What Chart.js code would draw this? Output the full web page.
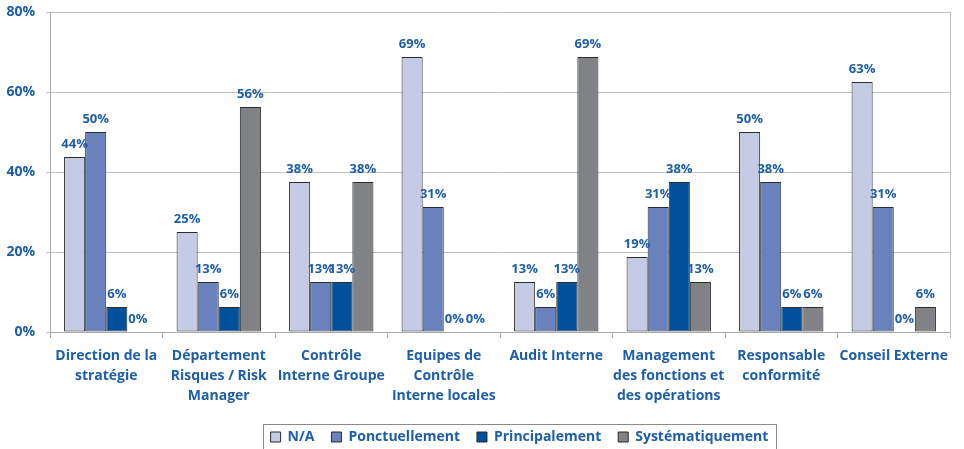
<!DOCTYPE html>
<html><head><meta charset="utf-8">
<script src="https://cdn.jsdelivr.net/npm/chart.js@4.4.0/dist/chart.umd.min.js"></script>
<style>html,body{margin:0;padding:0;background:#fff}#wrap{width:964px;height:449px}</style>
</head><body><div id="wrap"><canvas id="c" width="964" height="449"></canvas></div>
<script>
const categories = [["Direction de la","stratégie"],["Département","Risques / Risk","Manager"],["Contrôle","Interne Groupe"],["Equipes de","Contrôle","Interne locales"],["Audit Interne"],["Management","des fonctions et","des opérations"],["Responsable","conformité"],["Conseil Externe"]];
const seriesNames = ["N/A","Ponctuellement","Principalement","Systématiquement"];
const naValues = [43.75,25,37.5,68.75,12.5,18.75,50,62.5];
const ponctuellementValues = [50,12.5,12.5,31.25,6.25,31.25,37.5,31.25];
const principalementValues = [6.25,6.25,12.5,0,12.5,37.5,6.25,0];
const systematiquementValues = [0,56.25,37.5,0,68.75,12.5,6.25,6.25];
const yTickValues = [0,20,40,60,80];

const TEXT = '#1d5ea8';
const FONT = '"Open Sans", Lato, sans-serif';
const colors = ['#c5cbe4','#6982bd','#00509b','#808285'];
const seriesValues = [naValues, ponctuellementValues, principalementValues, systematiquementValues];

const valueLabels = {
  id:'valueLabels',
  afterDatasetsDraw(chart){
    const ctx = chart.ctx; ctx.save();
    ctx.font = 'bold 13px ' + FONT; ctx.fillStyle = TEXT;
    ctx.textAlign = 'center'; ctx.textBaseline = 'bottom';
    chart.data.datasets.forEach((ds,i)=>{
      chart.getDatasetMeta(i).data.forEach((bar,j)=>{
        ctx.fillText(Math.round(ds.data[j]) + '%', bar.x, bar.y - 6);
      });
    });
    ctx.restore();
  }
};
const frame = {
  id:'frame',
  afterLayout(chart){
    const lg = chart.legend; if(!lg || !lg.lineWidths) return;
    const pad = lg.options.labels.padding;
    const lw = lg.lineWidths[0];
    const x0 = (lg.left + pad + lg.right - lw)/2;
    const center = x0 + (lw - pad)/2;
    const dx = 519.5 - center;
    const itemH = 14;
    const dy = 437 - (lg.top + pad + itemH/2);
    lg.left += dx; lg.right += dx; lg.top += dy; lg.bottom += dy;
    chart.$legendRect = {l: x0 + dx - 8, r: x0 + dx + lw - pad + 7};
  },
  afterDraw(chart){
    const ctx = chart.ctx, a = chart.chartArea;
    ctx.save();
    ctx.strokeStyle = '#c3c3c3'; ctx.lineWidth = 1;
    ctx.beginPath(); ctx.moveTo(Math.round(a.right)+0.5, a.top); ctx.lineTo(Math.round(a.right)+0.5, a.bottom+5); ctx.stroke();
    if (chart.$legendRect){
      ctx.strokeStyle = '#8a8a8a';
      const r = chart.$legendRect;
      ctx.strokeRect(Math.round(r.l)+0.5, 424.5, Math.round(r.r - r.l), 40);
    }
    ctx.restore();
  }
};

new Chart(document.getElementById('c'), {
  type:'bar',
  data:{
    labels: categories,
    datasets: seriesNames.map((n,i)=>({
      label:n, data:seriesValues[i], backgroundColor:colors[i],
      borderColor:'#2b2b2b', borderWidth:1, borderSkipped:false,
      categoryPercentage:0.75, barPercentage:1
    }))
  },
  options:{
    responsive:false, animation:false, devicePixelRatio:1,
    layout:{padding:{top:12,right:14,left:0,bottom:0}},
    plugins:{
      legend:{position:'bottom', labels:{color:TEXT, font:{family:FONT, size:14, weight:'bold'}, boxWidth:10, boxHeight:10, padding:17}},
      tooltip:{enabled:false}
    },
    scales:{
      y:{min:0,max:80,
        afterBuildTicks(s){ s.ticks = yTickValues.map(v=>({value:v})); },
        afterFit(s){ s.width = 50; s.paddingTop = 0; s.paddingBottom = 0; },
        ticks:{callback:v=>v+'%', color:TEXT, font:{family:FONT,size:14,weight:'bold'}, padding:11},
        grid:{color:'#c3c3c3', tickLength:4, lineWidth:1},
        border:{color:'#a8a8a8'}
      },
      x:{
        afterFit(s){ s.height = 76; },
        ticks:{color:TEXT, font:{family:FONT,size:14,weight:'bold', lineHeight:20/14}, padding:8, maxRotation:0, autoSkip:false},
        grid:{drawOnChartArea:false, tickLength:6, color:'#a8a8a8', offset:true},
        border:{color:'#a8a8a8'}
      }
    }
  },
  plugins:[valueLabels, frame]
});
</script></body></html>
